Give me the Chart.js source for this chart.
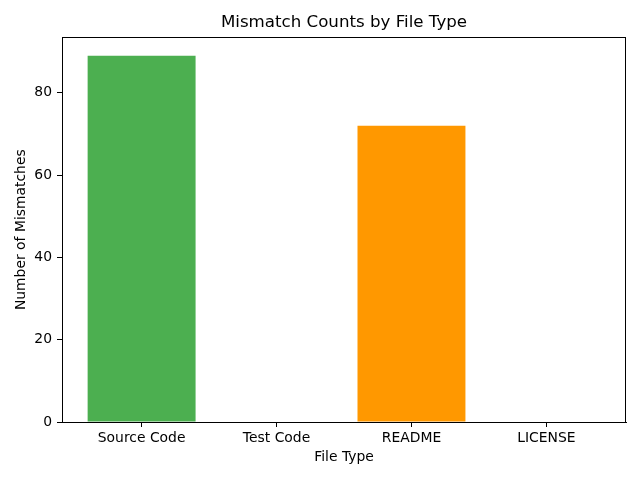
<!DOCTYPE html>
<html>
<head>
<meta charset="utf-8">
<script src="https://cdn.jsdelivr.net/npm/chart.js@4.4.1/dist/chart.umd.min.js"></script>
<style>
html,body{margin:0;padding:0;background:#fff;}
#wrap{width:640px;height:480px;}
</style>
</head>
<body>
<div id="wrap"><canvas id="c" width="640" height="480"></canvas></div>
<script>
const categories = ["Source Code", "Test Code", "README", "LICENSE"];
const mismatches = [89, 0, 72, 0];
const barColors = ["#4CAF50", "#2196F3", "#FF9800", "#9C27B0"];
const yTicks = [0, 20, 40, 60, 80];
const chartTitle = "Mismatch Counts by File Type";
const xTitle = "File Type";
const yTitle = "Number of Mismatches";

const FONT = "'DejaVu Sans', sans-serif";
const yMax = Math.max(...mismatches) * 1.05;
const xMin = -0.4 - 0.05 * (categories.length - 1 + 0.8);
const xMax = categories.length - 1 + 0.4 + 0.05 * (categories.length - 1 + 0.8);

const framePlugin = {
  id: 'frame',
  afterDraw(chart) {
    const {ctx, chartArea: a} = chart;
    ctx.save();
    ctx.strokeStyle = '#000';
    ctx.lineWidth = 1;
    ctx.strokeRect(Math.round(a.left) + 0.5, Math.round(a.top) + 0.5,
                   Math.round(a.right - a.left) - 1, Math.round(a.bottom - a.top));
    ctx.fillStyle = '#000';
    ctx.font = "16.67px " + FONT;
    ctx.textAlign = 'center';
    ctx.textBaseline = 'middle';
    ctx.fillText(chartTitle, (a.left + a.right) / 2, 23);
    ctx.restore();
  }
};

new Chart(document.getElementById('c'), {
  type: 'bar',
  data: {
    datasets: [{
      data: mismatches.map((v, i) => ({x: i, y: v})),
      backgroundColor: barColors,
      borderWidth: 0,
      borderColor: 'rgba(0,0,0,0)',
      barPercentage: 0.8,
      categoryPercentage: 1.0
    }]
  },
  options: {
    responsive: false,
    animation: false,
    events: [],
    layout: {padding: {top: 37.4, right: 14, left: 0, bottom: 0}},
    plugins: {legend: {display: false}, tooltip: {enabled: false}, title: {display: false}},
    scales: {
      x: {
        type: 'linear',
        offset: false,
        min: xMin,
        max: xMax,
        afterBuildTicks: s => { s.ticks = categories.map((c, i) => ({value: i})); },
        afterFit: s => { s.height = 58; },
        ticks: {
          callback: v => categories[v],
          color: '#000',
          font: {family: FONT, size: 13.9},
          padding: 3,
          maxRotation: 0,
          autoSkip: false
        },
        grid: {offset: false, drawOnChartArea: false, drawTicks: true, tickLength: 5, tickColor: '#000', tickWidth: 1},
        border: {display: true, color: '#000', width: 1},
        title: {display: true, text: xTitle, color: '#000', font: {family: FONT, size: 13.9}, padding: {top: 0, bottom: 14.7}}
      },
      y: {
        type: 'linear',
        min: 0,
        max: yMax,
        afterBuildTicks: s => { s.ticks = yTicks.map(v => ({value: v})); },
        afterFit: s => { s.width = 62; },
        ticks: {
          color: '#000',
          font: {family: FONT, size: 13.9},
          padding: 5
        },
        grid: {drawOnChartArea: false, drawTicks: true, tickLength: 5, tickColor: '#000', tickWidth: 1},
        border: {display: true, color: '#000', width: 1},
        title: {display: true, text: yTitle, color: '#000', font: {family: FONT, size: 13.9}, padding: {top: 12.7, bottom: 0}}
      }
    }
  },
  plugins: [framePlugin]
});
</script>
</body>
</html>
